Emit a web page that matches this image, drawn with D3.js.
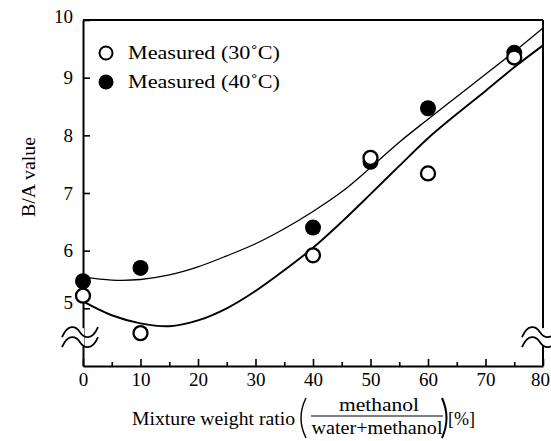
<!DOCTYPE html>
<html><head><meta charset="utf-8">
<script src="https://cdn.jsdelivr.net/npm/d3@7"></script>
<style>
html,body{margin:0;padding:0;background:#fff;}
svg{display:block;}
text{font-family:"Liberation Serif","Times New Roman",serif;fill:#000;}
</style></head>
<body>
<svg id="chart" width="551" height="441"></svg>
<script>
// ---- data ----
const mixRatio = [0, 10, 40, 50, 60, 75];                 // methanol weight ratio [%]
const measured30C = [5.22, 4.57, 5.92, 7.61, 7.34, 9.35]; // open circles
const measured40C = [5.47, 5.70, 6.40, 7.54, 8.47, 9.43]; // filled circles
const fitRatio = [0,5,10,15,20,25,30,35,40,45,50,55,60,65,70,75,80];
const fit40C = [5.54,5.49,5.50,5.58,5.72,5.91,6.12,6.38,6.68,7.02,7.44,7.88,8.28,8.67,9.06,9.45,9.86];
const fit30C = [5.12,4.88,4.74,4.69,4.79,5.00,5.30,5.66,6.05,6.50,6.98,7.47,7.95,8.37,8.77,9.18,9.56];
const xTicks = [0,10,20,30,40,50,60,70,80];
const xMinorTicks = [5,15,25,35,45,55,65,75];
const yTicks = [5,6,7,8,9,10];
const legendLabels = ["Measured (30\u02DAC)", "Measured (40\u02DAC)"];

const svg = d3.select("#chart");
const x = d3.scaleLinear().domain([0,80]).range([83,543]);
const y = d3.scaleLinear().domain([4,10]).range([366,20]);

// frame top and right
svg.append("line").attr("x1",x(0)).attr("x2",x(80)).attr("y1",y(10)).attr("y2",y(10))
  .attr("stroke","#000").attr("stroke-width",2);
svg.append("line").attr("x1",x(80)).attr("x2",x(80)).attr("y1",y(10)).attr("y2",y(4))
  .attr("stroke","#000").attr("stroke-width",2);

// x axis
const gx = svg.append("g").attr("transform",`translate(0,${y(4)})`)
  .call(d3.axisBottom(x).tickValues(xTicks).tickFormat(d3.format("d")).tickSizeInner(-7).tickSizeOuter(0).tickPadding(7));
gx.select(".domain").attr("stroke-width",2);
gx.selectAll(".tick line").attr("stroke-width",1.6);
gx.selectAll(".tick text").attr("font-size",19).style("font-family","Liberation Serif");
gx.selectAll(".tick").filter(d=>d===80).select("text").attr("dx","-3");
const gxm = svg.append("g").attr("transform",`translate(0,${y(4)})`)
  .call(d3.axisBottom(x).tickValues(xMinorTicks).tickSizeInner(-4).tickSizeOuter(0).tickFormat(""));
gxm.select(".domain").remove();
gxm.selectAll(".tick line").attr("stroke-width",1.6);

// y axis
const gy = svg.append("g").attr("transform",`translate(${x(0)},0)`)
  .call(d3.axisLeft(y).tickValues(yTicks).tickFormat(d3.format("d")).tickSizeInner(-7).tickSizeOuter(0).tickPadding(10));
gy.select(".domain").attr("stroke-width",2);
gy.selectAll(".tick line").attr("stroke-width",1.6);
gy.selectAll(".tick text").attr("font-size",19).style("font-family","Liberation Serif");
gy.selectAll(".tick").filter(d=>d===5).select("text").attr("dy","0.0em");
gy.selectAll(".tick").filter(d=>d===10).select("text").attr("dy","0.15em");

// axis break marks
function breakMark(cx, cy){
  const g = svg.append("g");
  const w = 18, gap = 5;
  const wave = (yy)=>`M${cx-w},${yy+5} C${cx-w+6},${yy-9} ${cx-4},${yy-6} ${cx},${yy} C${cx+4},${yy+6} ${cx+w-6},${yy+9} ${cx+w},${yy-5}`;
  g.append("rect").attr("x",cx-4).attr("y",cy-gap-4).attr("width",8).attr("height",2*gap+8).attr("fill","#fff");
  g.append("path").attr("d",wave(cy-gap)).attr("fill","none").attr("stroke","#000").attr("stroke-width",1.8);
  g.append("path").attr("d",wave(cy+gap)).attr("fill","none").attr("stroke","#000").attr("stroke-width",1.8);
}
breakMark(x(0)-3, y(4.5));
breakMark(x(80)-3, y(4.5));

// fitted curves
const line = d3.line().x((d,i)=>x(fitRatio[i])).y(d=>y(d)).curve(d3.curveCatmullRom);
svg.append("path").attr("d",line(fit40C)).attr("fill","none").attr("stroke","#000").attr("stroke-width",1.3);
svg.append("path").attr("d",line(fit30C)).attr("fill","none").attr("stroke","#000").attr("stroke-width",1.9);

// points
svg.append("g").selectAll("circle").data(measured40C).join("circle")
  .attr("cx",(d,i)=>x(mixRatio[i])).attr("cy",d=>y(d)).attr("r",8).attr("fill","#000");
svg.append("g").selectAll("circle").data(measured30C).join("circle")
  .attr("cx",(d,i)=>x(mixRatio[i])).attr("cy",d=>y(d)).attr("r",7).attr("fill","#fff")
  .attr("stroke","#000").attr("stroke-width",2.3);

// legend
const lg = svg.append("g");
lg.append("circle").attr("cx",106).attr("cy",53).attr("r",6.5).attr("fill","#fff").attr("stroke","#000").attr("stroke-width",2);
lg.append("circle").attr("cx",106).attr("cy",82).attr("r",7.5).attr("fill","#000");
lg.selectAll("text").data(legendLabels).join("text")
  .attr("x",128).attr("y",(d,i)=>59+i*29).attr("font-size",19)
  .attr("textLength",152).attr("lengthAdjust","spacingAndGlyphs").text(d=>d);

// y label
svg.append("text").attr("transform","translate(35,177) rotate(-90)")
  .attr("text-anchor","middle").attr("font-size",18)
  .attr("textLength",80).attr("lengthAdjust","spacingAndGlyphs").text("B/A value");

// x label with fraction
svg.append("text").attr("x",132).attr("y",425).attr("font-size",19)
  .attr("textLength",163).attr("lengthAdjust","spacingAndGlyphs").text("Mixture weight ratio");
svg.append("text").attr("x",379).attr("y",411).attr("text-anchor","middle").attr("font-size",19)
  .attr("textLength",80).attr("lengthAdjust","spacingAndGlyphs").text("methanol");
svg.append("line").attr("x1",311).attr("x2",443).attr("y1",416).attr("y2",416).attr("stroke","#000").attr("stroke-width",1.2);
svg.append("text").attr("x",377).attr("y",434).attr("text-anchor","middle").attr("font-size",19)
  .attr("textLength",131).attr("lengthAdjust","spacingAndGlyphs").text("water+methanol");
svg.append("path").attr("d","M306,398 Q296,418 306,438").attr("fill","none").attr("stroke","#000").attr("stroke-width",1.4);
svg.append("path").attr("d","M442,398 Q451,418 442,438").attr("fill","none").attr("stroke","#000").attr("stroke-width",2);
svg.append("text").attr("x",448).attr("y",425).attr("font-size",18).text("[%]");
</script>
</body></html>
